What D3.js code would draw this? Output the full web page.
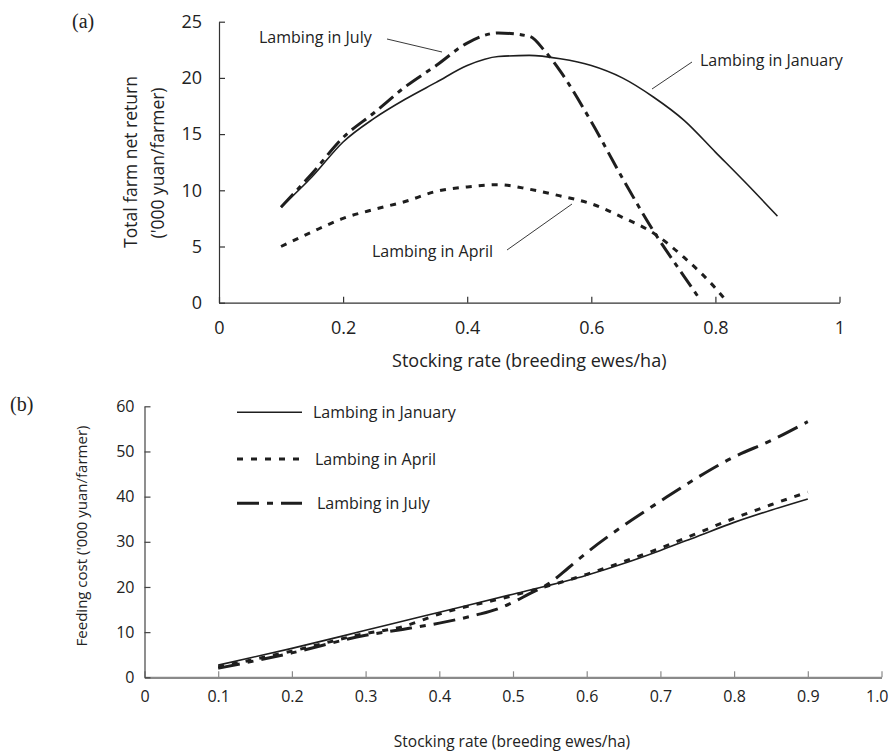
<!DOCTYPE html>
<html>
<head>
<meta charset="utf-8">
<script src="https://cdn.jsdelivr.net/npm/d3@7"></script>
<style>
  body { margin: 0; background: #fff; }
  svg text { font-family: "Open Sans", Lato, sans-serif; fill: #222; }
  .panel { font-family: "Liberation Serif", serif !important; }
</style>
</head>
<body>
<svg id="chart" width="890" height="751"></svg>
<script>
// ---- panel (a): total farm net return ----
var janX = [0.1, 0.15, 0.2, 0.25, 0.3, 0.35, 0.4, 0.45, 0.5, 0.55, 0.6, 0.65, 0.7, 0.75, 0.8, 0.85, 0.9];
var janReturn = [8.5, 11.2, 14.3, 16.4, 18.1, 19.6, 21.1, 21.9, 22.0, 21.7, 21.1, 20.0, 18.3, 16.2, 13.4, 10.6, 7.7];

var aprX = [0.1, 0.15, 0.2, 0.25, 0.3, 0.35, 0.4, 0.45, 0.5, 0.55, 0.6, 0.65, 0.7, 0.75, 0.8, 0.82];
var aprReturn = [5.0, 6.3, 7.5, 8.3, 9.0, 9.9, 10.3, 10.5, 10.1, 9.5, 8.8, 7.6, 6.2, 4.0, 1.3, 0];

var julX = [0.1, 0.15, 0.2, 0.25, 0.3, 0.35, 0.4, 0.45, 0.5, 0.525, 0.55, 0.6, 0.65, 0.7, 0.75, 0.775];
var julReturn = [8.5, 11.5, 14.7, 16.9, 19.2, 21.1, 23.1, 24.0, 23.7, 22.4, 20.6, 16.1, 11.1, 6.4, 2.3, 0.3];

var xTicksA = [0, 0.2, 0.4, 0.6, 0.8, 1];
var yTicksA = [0, 5, 10, 15, 20, 25];

// ---- panel (b): feeding cost ----
var janCostX = [0.1, 0.2, 0.3, 0.35, 0.4, 0.5, 0.6, 0.65, 0.7, 0.75, 0.8, 0.85, 0.9];
var janCost = [2.7, 6.4, 10.4, 12.4, 14.4, 18.4, 22.6, 25.2, 28.1, 31.2, 34.3, 37.0, 39.5];

var aprCostX = [0.1, 0.2, 0.3, 0.35, 0.4, 0.5, 0.6, 0.65, 0.7, 0.75, 0.8, 0.85, 0.9];
var aprCost = [2.3, 5.8, 9.7, 11.2, 14.0, 18.1, 22.8, 25.6, 28.6, 31.9, 35.2, 38.2, 41.0];

var julCostX = [0.1, 0.2, 0.3, 0.35, 0.4, 0.45, 0.48, 0.5, 0.52, 0.55, 0.575, 0.6, 0.65, 0.7, 0.75, 0.8, 0.85, 0.9];
var julCost = [2.0, 5.4, 9.3, 10.6, 12.0, 13.8, 15.2, 16.6, 18.3, 20.9, 24.2, 27.6, 33.6, 39.0, 44.2, 48.8, 52.4, 56.6];

var xTicksB = [0, 0.1, 0.2, 0.3, 0.4, 0.5, 0.6, 0.7, 0.8, 0.9, 1.0];
var yTicksB = [0, 10, 20, 30, 40, 50, 60];

var seriesNames = ["Lambing in January", "Lambing in April", "Lambing in July"];

var svg = d3.select("#chart");

// line styles: solid, dotted, dash-dot
var styleA = [
    { width: 1.6, dash: null },
    { width: 3, dash: "6,7" },
    { width: 3, dash: "18,6,5,6" }
];
var styleB = [
    { width: 1.6, dash: null },
    { width: 3, dash: "6,8" },
    { width: 3, dash: "22,8,6,8" }
];

function zip(xs, ys) {
    return xs.map(function (x, i) { return { x: x, y: ys[i] }; });
}

/////////////////////////////////////////////////////////////
// PANEL A
var xA = d3.scaleLinear().domain([0, 1]).range([219, 839.5]);
var yA = d3.scaleLinear().domain([0, 25]).range([302.7, 21.7]);

var lineA = d3.line()
    .x(function (d) { return xA(d.x); })
    .y(function (d) { return yA(d.y); })
    .curve(d3.curveMonotoneX);

var gA = svg.append("g");

gA.append("g")
    .attr("transform", "translate(0," + yA(0) + ")")
    .call(d3.axisBottom(xA).tickValues(xTicksA).tickSize(-6).tickSizeOuter(0).tickPadding(19)
        .tickFormat(function (d) { return d === 0 || d === 1 ? d : d3.format(".1f")(d); }))
    .call(function (g) {
        g.selectAll("path, line").attr("stroke", "#333").attr("stroke-width", 1.2);
        g.selectAll("text").attr("font-size", 18).attr("font-family", "Open Sans").attr("fill", "#222");
    });

gA.append("g")
    .attr("transform", "translate(" + xA(0) + ",0)")
    .call(d3.axisLeft(yA).tickValues(yTicksA).tickSize(-6).tickSizeOuter(0).tickPadding(17))
    .call(function (g) {
        g.selectAll("path, line").attr("stroke", "#333").attr("stroke-width", 1.2);
        g.selectAll("text").attr("font-size", 18).attr("font-family", "Open Sans").attr("fill", "#222");
    });

[zip(janX, janReturn), zip(aprX, aprReturn), zip(julX, julReturn)].forEach(function (pts, i) {
    gA.append("path")
        .datum(pts)
        .attr("d", lineA)
        .attr("fill", "none")
        .attr("stroke", "#1e1e1e")
        .attr("stroke-width", styleA[i].width)
        .attr("stroke-dasharray", styleA[i].dash);
});

// axis labels
gA.append("text")
    .attr("x", (xA(0) + xA(1)) / 2).attr("y", 367)
    .attr("text-anchor", "middle").attr("font-size", 18)
    .text("Stocking rate (breeding ewes/ha)");

gA.append("text")
    .attr("transform", "translate(137,162) rotate(-90)")
    .attr("text-anchor", "middle").attr("font-size", 17.5)
    .text("Total farm net return");
gA.append("text")
    .attr("transform", "translate(164,163) rotate(-90)")
    .attr("text-anchor", "middle").attr("font-size", 17.5)
    .text("('000 yuan/farmer)");

gA.append("text").attr("class", "panel")
    .attr("x", 72).attr("y", 28).attr("font-size", 20).text("(a)");

// callouts
var callouts = [
    { name: seriesNames[2], tx: 259, ty: 43, x1: 387, y1: 39, x2: 442, y2: 52 },
    { name: seriesNames[0], tx: 700, ty: 66, x1: 692, y1: 62, x2: 652, y2: 89 },
    { name: seriesNames[1], tx: 372, ty: 257, x1: 507, y1: 250, x2: 572, y2: 204 }
];
callouts.forEach(function (c) {
    gA.append("text").attr("x", c.tx).attr("y", c.ty).attr("font-size", 16).text(c.name);
    gA.append("line")
        .attr("x1", c.x1).attr("y1", c.y1).attr("x2", c.x2).attr("y2", c.y2)
        .attr("stroke", "#222").attr("stroke-width", 0.9);
});

/////////////////////////////////////////////////////////////
// PANEL B
var xB = d3.scaleLinear().domain([0, 1]).range([144.5, 881.5]);
var yB = d3.scaleLinear().domain([0, 60]).range([677.3, 406.3]);

var lineB = d3.line()
    .x(function (d) { return xB(d.x); })
    .y(function (d) { return yB(d.y); })
    .curve(d3.curveMonotoneX);

var gB = svg.append("g");

gB.append("g")
    .attr("transform", "translate(0," + yB(0) + ")")
    .call(d3.axisBottom(xB).tickValues(xTicksB).tickSize(-6).tickSizeOuter(0).tickPadding(13)
        .tickFormat(function (d) { return d === 0 ? "0" : d3.format(".1f")(d); }))
    .call(function (g) {
        g.selectAll("path, line").attr("stroke", "#8a8a8a").attr("stroke-width", 1.2);
        g.select("path").attr("stroke-width", 2.2);
        g.selectAll("text").attr("font-size", 16).attr("font-family", "Lato").attr("fill", "#222");
        // last label sits at the page edge: keep it inside
        g.selectAll(".tick text").filter(function (d) { return d === 1; })
            .attr("text-anchor", "end").attr("x", 888 - xB(1));
    });

gB.append("g")
    .attr("transform", "translate(" + xB(0) + ",0)")
    .call(d3.axisLeft(yB).tickValues(yTicksB).tickSize(-6).tickSizeOuter(0).tickPadding(10))
    .call(function (g) {
        g.selectAll("path, line").attr("stroke", "#444").attr("stroke-width", 1.2);
        g.selectAll("text").attr("font-size", 16).attr("font-family", "Lato").attr("fill", "#222");
    });

[zip(janCostX, janCost), zip(aprCostX, aprCost), zip(julCostX, julCost)].forEach(function (pts, i) {
    gB.append("path")
        .datum(pts)
        .attr("d", lineB)
        .attr("fill", "none")
        .attr("stroke", "#1e1e1e")
        .attr("stroke-width", styleB[i].width)
        .attr("stroke-dasharray", styleB[i].dash);
});

// legend
var legendY = [412.3, 459, 503.3];
seriesNames.forEach(function (name, i) {
    gB.append("line")
        .attr("x1", 237).attr("x2", 302).attr("y1", legendY[i]).attr("y2", legendY[i])
        .attr("stroke", "#1e1e1e")
        .attr("stroke-width", styleB[i].width)
        .attr("stroke-dasharray", styleB[i].dash);
    gB.append("text")
        .attr("x", 313 + i * 2).attr("y", legendY[i] + 6)
        .attr("font-size", 16).text(name);
});

gB.append("text")
    .attr("x", 512).attr("y", 747)
    .attr("text-anchor", "middle").attr("font-size", 15.5)
    .text("Stocking rate (breeding ewes/ha)");

gB.append("text")
    .attr("transform", "translate(87,536) rotate(-90)")
    .attr("text-anchor", "middle").attr("font-size", 15)
    .text("Feeding cost ('000 yuan/farmer)");

gB.append("text").attr("class", "panel")
    .attr("x", 10).attr("y", 411).attr("font-size", 20).text("(b)");
</script>
</body>
</html>
